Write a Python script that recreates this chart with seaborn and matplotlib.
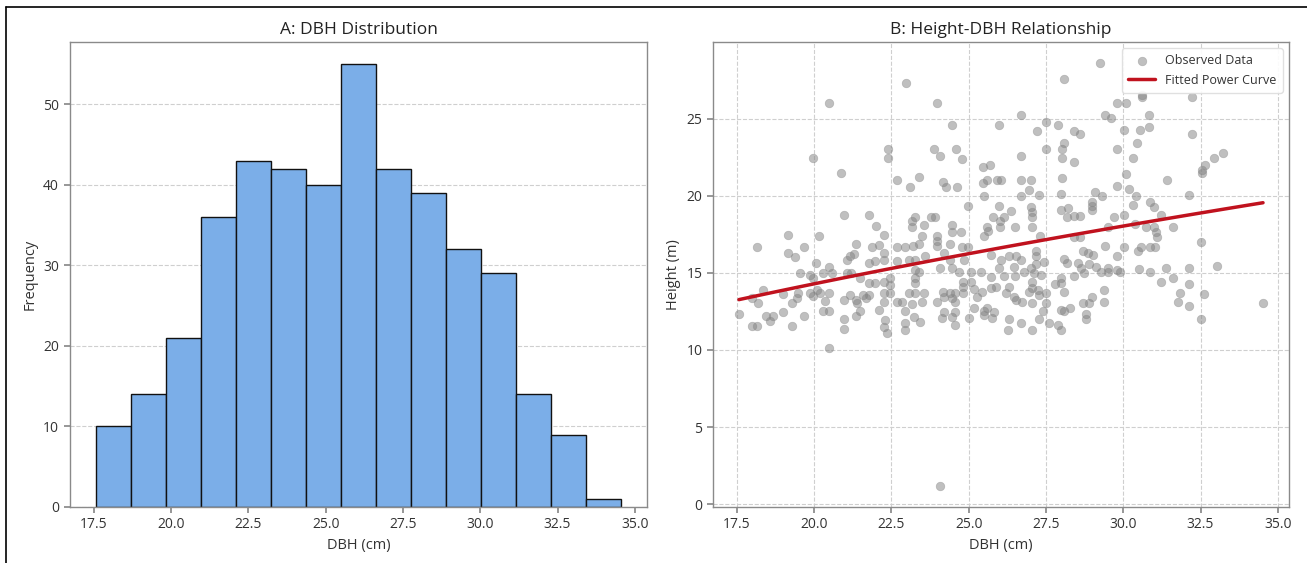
import numpy as np
import pandas as pd
import matplotlib
matplotlib.use('Agg')
import matplotlib.pyplot as plt
import seaborn as sns
from matplotlib.lines import Line2D

# ---------------- data ----------------
hist_counts = [10, 14, 21, 36, 43, 42, 40, 55, 42, 39, 32, 29, 14, 9, 1]
dbh_min, dbh_max = 17.56, 34.56
power_a, power_b = 2.558, 0.5742   # fitted H = a * DBH^b

dbh_obs = [
    20.47, 19.98, 22.38, 22.38, 20.87, 22.69, 20.98, 21.79, 22.0, 19.17, 20.16, 18.16, 19.68, 21.36, 21.87, 22.09,
    17.57, 17.98, 18.16, 18.19, 17.98, 18.36, 18.46, 18.66, 18.57, 18.98, 18.98, 19.28, 19.28, 19.49, 19.46, 19.68,
    19.17, 19.38, 19.55, 19.87, 19.98, 19.87, 19.98, 20.2, 20.09, 20.07, 20.3, 20.47, 20.57, 20.47, 20.36, 20.28,
    20.47, 20.47, 20.98, 20.98, 20.98, 21.17, 21.36, 21.39, 21.47, 21.36, 21.58, 21.69, 21.77, 21.06, 21.19, 21.47,
    21.77, 21.98, 21.98, 21.17, 21.3, 21.06, 21.77, 22.09,
    22.98, 23.98, 24.47, 25.98, 26.69, 27.5, 27.9, 28.09, 29.26, 27.21, 28.4, 28.6, 23.87, 24.07, 24.58, 24.79,
    25.47, 25.69, 26.69, 27.5, 28.01, 28.09, 28.01, 28.4, 23.39, 24.18, 25.47, 25.58, 25.93, 26.04, 26.69, 27.01, 28.01,
    23.09, 24.28, 24.61, 25.5, 26.69, 26.96, 24.98, 25.99, 23.28, 23.17, 23.17, 23.57, 23.77, 23.9, 23.5, 24.47,
    24.47, 24.76, 23.98, 23.98, 23.98, 24.39, 22.27, 22.68, 22.95, 23.19, 23.39, 23.6, 24.2, 24.8, 24.98, 22.25,
    22.25, 22.68, 23.06, 23.28, 24.41, 24.85, 25.71, 26.04, 26.31, 26.53, 26.69, 26.36, 26.15, 25.8, 26.0, 26.0,
    25.58, 25.63, 25.5, 26.49,
    27.28, 28.0, 29.07, 29.3, 29.8, 30.2, 30.42, 28.98, 28.98, 28.98, 28.0, 28.2, 28.18, 28.4, 28.6, 29.7,
    30.02, 30.31, 30.88, 31.0, 31.21, 27.06, 27.06, 27.01, 27.06, 29.52, 30.37, 30.74, 31.0, 31.07, 31.1, 31.6,
    27.31, 28.42, 28.61, 29.41, 30.02, 30.58, 30.88, 31.04, 30.49, 28.69, 28.85, 29.01, 27.17, 27.17, 28.09, 29.8,
    24.07, 24.47, 24.68, 25.06, 25.39, 25.71, 25.98, 26.14, 26.49, 26.79, 26.47, 23.28, 23.39, 22.47, 22.25, 22.47,
    23.28, 23.28, 22.27, 22.47, 23.06, 23.28, 23.55, 24.17, 24.39, 24.57, 24.82, 24.82, 24.82, 25.08, 25.17, 25.28,
    25.44, 25.71, 25.87, 26.2, 26.31, 26.47, 26.52, 26.74, 26.96, 22.27, 22.68, 22.84, 23.17, 23.49, 23.98, 24.2,
    24.47, 24.57, 25.17, 25.5, 25.58, 25.82, 25.5, 22.95, 23.22, 23.44, 24.2, 24.14, 24.47, 24.57, 25.01, 25.77,
    26.31, 26.69, 26.27, 24.57, 22.95, 22.95, 22.3, 22.25, 22.36,
    27.01, 27.12, 27.33, 27.17, 27.44, 28.18, 28.53, 28.63, 28.72, 28.42, 28.9, 29.12, 29.28, 29.52, 29.52, 29.8,
    29.91, 30.5, 30.88, 31.39, 31.61, 31.21, 27.79, 27.98, 28.0, 28.09, 27.5, 27.06, 27.06, 27.23, 27.28, 27.06,
    27.5, 27.39, 27.98, 28.09, 28.29, 28.69, 28.9, 28.98, 29.39, 29.39, 28.8, 28.8, 27.28, 27.6, 27.88, 28.0,
    27.06, 31.83, 31.77,
    30.59, 30.59, 32.21, 29.81, 30.1, 29.4, 29.61, 30.83, 30.03, 30.53, 30.83, 32.21, 30.43, 29.81, 30.32, 33.21,
    32.95, 32.64, 32.54, 32.54, 30.1, 31.43, 32.13, 32.52, 32.13, 33.02,
    32.13, 32.62, 32.13, 32.52, 34.52, 24.07,
]
height_obs = [
    25.99, 22.43, 23.01, 22.43, 21.46, 21.03, 18.77, 18.77, 18.01, 17.47, 17.36, 16.67, 16.67, 16.89, 16.67, 16.78,
    12.33, 11.53, 11.53, 13.04, 13.37, 13.86, 12.22, 12.22, 11.86, 12.44, 13.62, 11.53, 13.04, 13.69, 13.37, 12.22,
    16.27, 16.0, 15.02, 14.87, 14.66, 13.69, 13.47, 13.69, 13.9, 15.63, 15.02, 15.41, 15.02, 13.69, 13.15, 12.5,
    12.5, 10.13, 13.26, 12.01, 11.36, 13.58, 13.26, 13.04, 12.5, 12.18, 13.58, 13.37, 13.58, 15.02, 15.02, 14.66,
    14.33, 14.33, 15.74, 16.06, 16.23, 15.84, 15.63, 12.61,
    27.28, 25.98, 24.58, 24.58, 25.23, 24.8, 24.58, 27.6, 28.6, 24.22, 24.22, 23.98, 23.01, 22.6, 23.01, 22.39,
    21.83, 22.0, 22.6, 23.01, 23.01, 23.4, 22.43, 22.17, 21.24, 20.86, 20.81, 21.03, 21.03, 21.03, 21.03, 21.03, 21.14,
    20.59, 20.59, 20.59, 20.01, 20.01, 20.38, 19.36, 19.36, 18.65, 18.33, 17.94, 18.11, 18.61, 18.65, 17.36, 18.11,
    17.68, 17.68, 17.36, 17.04, 16.71, 16.86, 17.47, 16.65, 16.67, 16.71, 16.86, 16.07, 16.28, 16.65, 16.67, 16.28,
    15.85, 15.79, 15.85, 15.85, 15.85, 15.85, 16.17, 15.85, 16.07, 16.07, 15.85, 19.02, 18.65, 18.65, 18.33, 17.94,
    18.0, 17.73, 17.36, 18.0,
    20.05, 20.1, 20.23, 20.01, 20.6, 20.44, 20.01, 19.62, 19.36, 19.08, 19.08, 19.23, 18.61, 18.7, 18.7, 18.65,
    18.72, 19.41, 19.62, 19.3, 18.72, 18.0, 18.65, 19.3, 18.97, 18.0, 18.16, 18.0, 18.0, 17.64, 17.3, 18.0,
    17.42, 17.3, 17.3, 16.71, 16.65, 16.65, 16.65, 16.65, 16.39, 16.43, 16.28, 16.13, 16.43, 16.07, 15.92, 16.07,
    15.33, 15.33, 15.03, 15.03, 15.03, 14.75, 15.33, 14.81, 14.81, 15.03, 15.4, 15.18, 15.07, 14.69, 14.43, 14.21,
    14.32, 14.69, 13.67, 13.67, 13.67, 13.67, 13.67, 13.74, 13.67, 13.67, 13.67, 14.1, 14.43, 14.38, 13.95, 13.46,
    13.78, 14.04, 14.1, 13.67, 14.1, 13.46, 13.24, 13.13, 13.78, 13.09, 13.09, 13.09, 12.96, 13.09, 13.09, 13.46,
    13.39, 13.09, 12.7, 12.53, 12.75, 12.49, 12.27, 12.53, 12.16, 11.84, 12.49, 12.1, 12.16, 12.49, 12.06, 12.06,
    12.01, 11.73, 11.3, 11.63, 11.73, 11.3, 11.95, 11.52, 11.09,
    15.29, 14.97, 14.86, 15.55, 15.72, 15.61, 15.61, 15.29, 14.97, 14.81, 15.55, 15.4, 15.03, 15.33, 15.03, 15.18,
    15.03, 15.25, 15.03, 15.33, 14.69, 14.38, 14.25, 14.32, 14.69, 13.78, 13.67, 14.43, 13.99, 13.89, 13.56, 13.03,
    13.03, 12.53, 12.6, 12.53, 12.75, 13.03, 13.03, 13.46, 13.89, 13.13, 12.31, 12.01, 12.01, 11.73, 11.63, 11.3,
    11.3, 13.67, 13.09,
    26.52, 26.37, 26.37, 25.99, 25.99, 25.23, 25.02, 25.23, 24.26, 24.26, 24.43, 24.0, 23.4, 23.01, 22.43, 22.8,
    22.43, 22.0, 21.67, 21.5, 21.42, 21.03, 20.06, 16.98, 15.32, 15.42,
    14.29, 13.65, 12.83, 12.01, 13.04, 1.19,
]

# ---------------- style ----------------
sns.set_theme(style='white')
plt.rcParams['font.family'] = ['Open Sans', 'DejaVu Sans']
plt.rcParams['axes.edgecolor'] = '#8a8a8a'
plt.rcParams['axes.linewidth'] = 1.0
plt.rcParams['xtick.color'] = '#8a8a8a'
plt.rcParams['ytick.color'] = '#8a8a8a'
plt.rcParams['xtick.labelcolor'] = '#333333'
plt.rcParams['ytick.labelcolor'] = '#333333'
plt.rcParams['xtick.bottom'] = True
plt.rcParams['ytick.left'] = True
plt.rcParams['xtick.major.size'] = 4
plt.rcParams['ytick.major.size'] = 4

fig = plt.figure(figsize=(13.07, 5.63), dpi=100)
ax1 = fig.add_axes([0.0532, 0.0995, 0.4422, 0.826])
ax2 = fig.add_axes([0.5453, 0.0995, 0.4411, 0.826])

grid_kw = dict(linestyle='--', color='#cfcfcf', linewidth=0.8)

# ---- Panel A: histogram ----
n_bins = len(hist_counts)
width = (dbh_max - dbh_min) / n_bins
hist_df = pd.DataFrame({
    'dbh': [dbh_min + width * (i + 0.5) for i in range(n_bins)],
    'count': hist_counts,
})
ax1.set_axisbelow(True)
ax1.yaxis.grid(True, **grid_kw)
sns.histplot(data=hist_df, x='dbh', weights='count', bins=n_bins,
             binrange=(dbh_min, dbh_max), ax=ax1,
             color='#7baee8', edgecolor='#111111', linewidth=1.0, alpha=1.0)
ax1.set_xticks(np.arange(17.5, 35.01, 2.5))
ax1.set_title('A: DBH Distribution', fontsize=12.5, color='#222222', pad=6)
ax1.set_xlabel('DBH (cm)', fontsize=10.5, color='#333333')
ax1.set_ylabel('Frequency', fontsize=10.5, color='#333333')
ax1.tick_params(labelsize=10)

# ---- Panel B: scatter + power curve ----
ax2.set_axisbelow(True)
ax2.grid(True, **grid_kw)
sns.scatterplot(x=dbh_obs, y=height_obs, ax=ax2, color='gray', alpha=0.5,
                s=38, edgecolor='#8c8c8c', linewidth=0.5, label='Observed Data')
x_fit = np.linspace(min(dbh_obs), max(dbh_obs), 100)
y_fit = power_a * x_fit ** power_b
sns.lineplot(x=x_fit, y=y_fit, ax=ax2, color='#c0121e', linewidth=2.5,
             label='Fitted Power Curve')
ax2.set_xticks(np.arange(17.5, 35.01, 2.5))
ax2.set_yticks(np.arange(0, 26, 5))
ax2.set_title('B: Height-DBH Relationship', fontsize=12.5, color='#222222', pad=6)
ax2.set_xlabel('DBH (cm)', fontsize=10.5, color='#333333')
ax2.set_ylabel('Height (m)', fontsize=10.5, color='#333333')
ax2.tick_params(labelsize=10)
leg = ax2.legend(loc='upper right', fontsize=9, frameon=True, framealpha=0.9,
                 edgecolor='#dddddd', borderpad=0.5, handlelength=2.2)
for t in leg.get_texts():
    t.set_color('#333333')

# thin screenshot frame on top/left
fig.add_artist(Line2D([0.0046, 1.0], [0.9875, 0.9875], transform=fig.transFigure,
                      color='black', linewidth=1.2))
fig.add_artist(Line2D([0.0046, 0.0046], [0.0, 0.9875], transform=fig.transFigure,
                      color='black', linewidth=1.2))

fig.savefig('out.png', dpi=100)
